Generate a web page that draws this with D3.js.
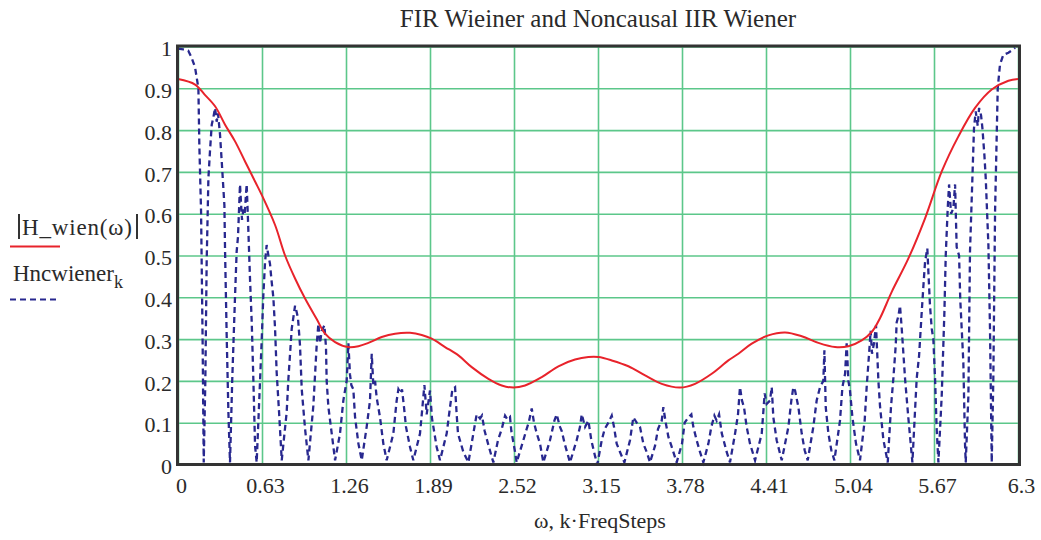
<!DOCTYPE html>
<html>
<head>
<meta charset="utf-8">
<script src="https://cdn.jsdelivr.net/npm/d3@7"></script>
<style>
  body { margin: 0; background: #fff; }
  svg text { font-family: "Liberation Serif", "Times New Roman", serif; fill: #2a2a2a; }
</style>
</head>
<body>
<svg id="chart" width="1041" height="540"></svg>
<script>
// tick labels
const xTicks = [0, 0.63, 1.26, 1.89, 2.52, 3.15, 3.78, 4.41, 5.04, 5.67, 6.3];
const xTickLabels = ['0', '0.63', '1.26', '1.89', '2.52', '3.15', '3.78', '4.41', '5.04', '5.67', '6.3'];
const yTicks = [0, 0.1, 0.2, 0.3, 0.4, 0.5, 0.6, 0.7, 0.8, 0.9, 1];
const yTickLabels = ['0', '0.1', '0.2', '0.3', '0.4', '0.5', '0.6', '0.7', '0.8', '0.9', '1'];

// |H_wien(w)|
const wienW = [0, 0.128, 0.2, 0.278, 0.353, 0.428, 0.503, 0.578, 0.628, 0.728, 0.803, 0.878, 0.953, 1.04, 1.103, 1.178, 1.278, 1.353, 1.428, 1.528, 1.628, 1.74, 1.828, 1.903, 2.003, 2.103, 2.203, 2.328, 2.428, 2.515, 2.603, 2.728, 2.853, 2.978, 3.078, 3.153, 3.253, 3.378, 3.503, 3.628, 3.765, 3.878, 4.003, 4.128, 4.203, 4.303, 4.428, 4.553, 4.678, 4.803, 4.928, 5.028, 5.128, 5.203, 5.265, 5.353, 5.478, 5.603, 5.728, 5.853, 5.978, 6.103, 6.228, 6.3];
const wienV = [0.922, 0.909, 0.885, 0.857, 0.813, 0.773, 0.725, 0.677, 0.645, 0.573, 0.50, 0.445, 0.397, 0.348, 0.313, 0.293, 0.281, 0.283, 0.291, 0.305, 0.313, 0.315, 0.310, 0.301, 0.281, 0.261, 0.233, 0.205, 0.189, 0.184, 0.189, 0.209, 0.235, 0.251, 0.257, 0.257, 0.249, 0.235, 0.213, 0.193, 0.184, 0.193, 0.217, 0.249, 0.265, 0.289, 0.309, 0.316, 0.307, 0.291, 0.281, 0.283, 0.297, 0.317, 0.35, 0.413, 0.493, 0.589, 0.701, 0.785, 0.853, 0.897, 0.918, 0.922];

// Hncwiener_k, lobe by lobe
const hncW = [
  0, 0.04, 0.077, 0.1, 0.128, 0.153, 0.16, 0.173, 0.185, 0.193,
  0.205, 0.215, 0.228, 0.24, 0.253, 0.265, 0.278, 0.29, 0.30, 0.315, 0.328, 0.348, 0.353, 0.365, 0.378, 0.39,
  0.407, 0.428, 0.44, 0.45, 0.465, 0.48, 0.49, 0.50, 0.515, 0.525, 0.54, 0.553, 0.565, 0.578, 0.59,
  0.605, 0.628, 0.64, 0.653, 0.665, 0.678, 0.69, 0.70, 0.715, 0.728, 0.74, 0.758, 0.778,
  0.815, 0.828, 0.853, 0.878, 0.89, 0.90, 0.915, 0.928, 0.953, 0.978,
  1.015, 1.04, 1.053, 1.065, 1.078, 1.098, 1.11, 1.115, 1.128, 1.153, 1.178,
  1.215, 1.24, 1.265, 1.278, 1.29, 1.30, 1.315, 1.328, 1.353, 1.378,
  1.415, 1.44, 1.453, 1.465, 1.478, 1.49, 1.515, 1.54, 1.565,
  1.615, 1.64, 1.653, 1.67, 1.68, 1.695, 1.71, 1.74, 1.765,
  1.815, 1.833, 1.848, 1.865, 1.89, 1.905, 1.94, 1.965,
  2.015, 2.04, 2.058, 2.078, 2.09, 2.10, 2.14, 2.178,
  2.215, 2.24, 2.265, 2.28, 2.30, 2.325, 2.365,
  2.40, 2.428, 2.453, 2.47, 2.49, 2.50, 2.528, 2.54,
  2.59, 2.615, 2.63, 2.653, 2.67, 2.69, 2.715, 2.74,
  2.79, 2.823, 2.84, 2.865, 2.878, 2.90, 2.94,
  2.99, 3.015, 3.028, 3.053, 3.078, 3.10, 3.128, 3.145,
  3.178, 3.20, 3.228, 3.253, 3.27, 3.29, 3.315, 3.348,
  3.39, 3.415, 3.44, 3.465, 3.49, 3.515, 3.54,
  3.578, 3.60, 3.628, 3.64, 3.658, 3.678, 3.70, 3.74,
  3.78, 3.80, 3.828, 3.85, 3.865, 3.89, 3.915, 3.94,
  3.978, 4.0, 4.023, 4.04, 4.058, 4.078, 4.115, 4.14,
  4.178, 4.2, 4.215, 4.23, 4.245, 4.265, 4.29, 4.328,
  4.378, 4.40, 4.415, 4.44, 4.453, 4.465, 4.49, 4.528,
  4.578, 4.60, 4.615, 4.628, 4.653, 4.678, 4.70, 4.723,
  4.765, 4.79, 4.815, 4.84, 4.848, 4.858, 4.878, 4.90, 4.923,
  4.965, 4.983, 5.003, 5.015, 5.028, 5.04, 5.058, 5.085, 5.115,
  5.15, 5.165, 5.183, 5.195, 5.205, 5.22, 5.235, 5.245, 5.253, 5.265, 5.29, 5.323,
  5.348, 5.365, 5.383, 5.39, 5.403, 5.415, 5.428, 5.453, 5.478, 5.508,
  5.54, 5.558, 5.578, 5.59, 5.603, 5.62, 5.628, 5.64, 5.653, 5.665, 5.678, 5.69, 5.703,
  5.728, 5.748, 5.758, 5.773, 5.783, 5.798, 5.815, 5.828, 5.84, 5.858, 5.867, 5.89, 5.903, 5.908,
  5.928, 5.94, 5.958, 5.97, 5.983, 5.998, 6.008, 6.023, 6.033, 6.048, 6.058, 6.078, 6.09, 6.103,
  6.115, 6.128, 6.148, 6.165, 6.19, 6.228, 6.265, 6.278
];
const hncV = [
  0.995, 0.993, 0.99, 0.975, 0.95, 0.90, 0.765, 0.605, 0.285, 0.005,
  0.2, 0.485, 0.685, 0.75, 0.813, 0.83, 0.853, 0.82, 0.84, 0.79, 0.725, 0.62, 0.51, 0.31, 0.125, 0.005,
  0.205, 0.405, 0.51, 0.545, 0.67, 0.585, 0.61, 0.60, 0.67, 0.585, 0.445, 0.34, 0.205, 0.045, 0.005,
  0.12, 0.30, 0.405, 0.485, 0.525, 0.5, 0.48, 0.445, 0.40, 0.325, 0.22, 0.125, 0.01,
  0.125, 0.205, 0.325, 0.38, 0.365, 0.35, 0.285, 0.18, 0.085, 0.01,
  0.14, 0.285, 0.337, 0.29, 0.32, 0.333, 0.28, 0.2, 0.137, 0.074, 0.01,
  0.074, 0.153, 0.2, 0.29, 0.215, 0.19, 0.18, 0.113, 0.05, 0.01,
  0.09, 0.153, 0.265, 0.19, 0.2, 0.16, 0.113, 0.05, 0.01,
  0.074, 0.153, 0.18, 0.17, 0.18, 0.137, 0.09, 0.042, 0.01,
  0.074, 0.137, 0.19, 0.12, 0.177, 0.11, 0.042, 0.01,
  0.074, 0.137, 0.18, 0.185, 0.12, 0.074, 0.03, 0.005,
  0.074, 0.12, 0.11, 0.117, 0.08, 0.05, 0.005,
  0.058, 0.085, 0.117, 0.108, 0.114, 0.08, 0.03, 0.005,
  0.058, 0.085, 0.10, 0.134, 0.10, 0.075, 0.05, 0.005,
  0.058, 0.105, 0.12, 0.09, 0.08, 0.05, 0.005,
  0.058, 0.09, 0.12, 0.09, 0.105, 0.058, 0.02, 0.0,
  0.058, 0.085, 0.10, 0.117, 0.09, 0.05, 0.03, 0.005,
  0.058, 0.113, 0.10, 0.09, 0.05, 0.03, 0.005,
  0.045, 0.085, 0.105, 0.137, 0.10, 0.066, 0.045, 0.005,
  0.05, 0.10, 0.113, 0.12, 0.09, 0.058, 0.03, 0.005,
  0.05, 0.09, 0.117, 0.105, 0.12, 0.075, 0.03, 0.005,
  0.074, 0.12, 0.185, 0.153, 0.137, 0.09, 0.05, 0.01,
  0.074, 0.17, 0.145, 0.153, 0.185, 0.113, 0.058, 0.01,
  0.09, 0.153, 0.185, 0.177, 0.137, 0.074, 0.034, 0.01,
  0.09, 0.153, 0.185, 0.2, 0.273, 0.137, 0.074, 0.034, 0.01,
  0.105, 0.185, 0.217, 0.29, 0.2, 0.177, 0.113, 0.05, 0.01,
  0.105, 0.185, 0.265, 0.32, 0.265, 0.29, 0.333, 0.26, 0.2, 0.14, 0.06, 0.005,
  0.14, 0.205, 0.285, 0.34, 0.355, 0.38, 0.325, 0.205, 0.11, 0.005,
  0.205, 0.26, 0.365, 0.425, 0.485, 0.517, 0.46, 0.38, 0.325, 0.30, 0.205, 0.085, 0.005,
  0.165, 0.365, 0.50, 0.613, 0.67, 0.60, 0.613, 0.67, 0.52, 0.50, 0.395, 0.245, 0.045, 0.005,
  0.165, 0.51, 0.685, 0.805, 0.845, 0.81, 0.853, 0.835, 0.805, 0.74, 0.685, 0.525, 0.325, 0.005,
  0.205, 0.605, 0.90, 0.957, 0.98, 0.985, 0.993, 0.997
];

const svg = d3.select('#chart');
const plotL = 178, plotR = 1018, plotT = 46.5, plotB = 464.5;

const x = d3.scaleLinear().domain([0, 6.3]).range([plotL, plotR]);
const y = d3.scaleLinear().domain([0, 1]).range([plotB, plotT]);

const gridColor = '#5cc78a';

// grid lines
svg.append('g')
  .attr('transform', `translate(0,${plotB})`)
  .call(d3.axisBottom(x).tickValues(xTicks).tickSize(-(plotB - plotT)).tickFormat(''))
  .call(g => g.select('.domain').remove())
  .call(g => g.selectAll('line').attr('stroke', gridColor).attr('stroke-width', 1.6));
svg.append('g')
  .attr('transform', `translate(${plotL},0)`)
  .call(d3.axisLeft(y).tickValues(yTicks).tickSize(-(plotR - plotL)).tickFormat(''))
  .call(g => g.select('.domain').remove())
  .call(g => g.selectAll('line').attr('stroke', gridColor).attr('stroke-width', 1.6));

// tick labels
svg.append('g')
  .attr('transform', `translate(0,${plotB})`)
  .call(d3.axisBottom(x).tickValues(xTicks).tickSize(0).tickPadding(13)
    .tickFormat((d, i) => xTickLabels[i]))
  .call(g => g.select('.domain').remove())
  .call(g => g.selectAll('text').attr('font-size', 22).attr('dx', 3)
    .style('font-family', '"Liberation Serif", serif').attr('fill', '#2a2a2a'));
svg.append('g')
  .attr('transform', `translate(${plotL},0)`)
  .call(d3.axisLeft(y).tickValues(yTicks).tickSize(0).tickPadding(6)
    .tickFormat((d, i) => yTickLabels[i]))
  .call(g => g.select('.domain').remove())
  .call(g => g.selectAll('text').attr('font-size', 22).attr('dy', '0.42em')
    .style('font-family', '"Liberation Serif", serif').attr('fill', '#2a2a2a'));

// curves
const wienData = wienW.map((w, i) => [w, wienV[i]]);
const hncData = hncW.map((w, i) => [w, hncV[i]]);

svg.append('path')
  .datum(hncData)
  .attr('fill', 'none')
  .attr('stroke', '#28288f')
  .attr('stroke-width', 2.3)
  .attr('stroke-dasharray', '6,4')
  .attr('d', d3.line().x(d => x(d[0])).y(d => y(d[1])));

svg.append('path')
  .datum(wienData)
  .attr('fill', 'none')
  .attr('stroke', '#e8232b')
  .attr('stroke-width', 2)
  .attr('d', d3.line().curve(d3.curveCatmullRom.alpha(0.5)).x(d => x(d[0])).y(d => y(d[1])));

// frame
svg.append('rect')
  .attr('x', plotL - 0.5).attr('y', plotT - 0.5)
  .attr('width', plotR - plotL + 2).attr('height', plotB - plotT + 0.5)
  .attr('fill', 'none').attr('stroke', '#333').attr('stroke-width', 3);

// title
svg.append('text')
  .attr('x', 598).attr('y', 27)
  .attr('text-anchor', 'middle')
  .attr('font-size', 25)
  .text('FIR Wieiner and Noncausal IIR Wiener');

// x axis title
svg.append('text')
  .attr('x', 600).attr('y', 528)
  .attr('text-anchor', 'middle')
  .attr('font-size', 22)
  .text('ω, k·FreqSteps');

// legend
const leg = svg.append('g');
leg.append('line').attr('x1', 19).attr('x2', 19).attr('y1', 214).attr('y2', 239)
  .attr('stroke', '#333').attr('stroke-width', 2);
leg.append('text').attr('x', 22).attr('y', 235).attr('font-size', 23)
  .attr('textLength', 110).attr('lengthAdjust', 'spacing').text('H_wien(ω)');
leg.append('line').attr('x1', 137).attr('x2', 137).attr('y1', 214).attr('y2', 239)
  .attr('stroke', '#333').attr('stroke-width', 2);
leg.append('line').attr('x1', 10).attr('x2', 60).attr('y1', 246.5).attr('y2', 246.5)
  .attr('stroke', '#e8232b').attr('stroke-width', 2);
const t2 = leg.append('text').attr('x', 13).attr('y', 281).attr('font-size', 23);
t2.append('tspan').text('Hncwiener');
t2.append('tspan').attr('font-size', 18).attr('dy', 7).text('k');
leg.append('line').attr('x1', 10).attr('x2', 60).attr('y1', 299.5).attr('y2', 299.5)
  .attr('stroke', '#28288f').attr('stroke-width', 2).attr('stroke-dasharray', '6,4');
</script>
</body>
</html>
